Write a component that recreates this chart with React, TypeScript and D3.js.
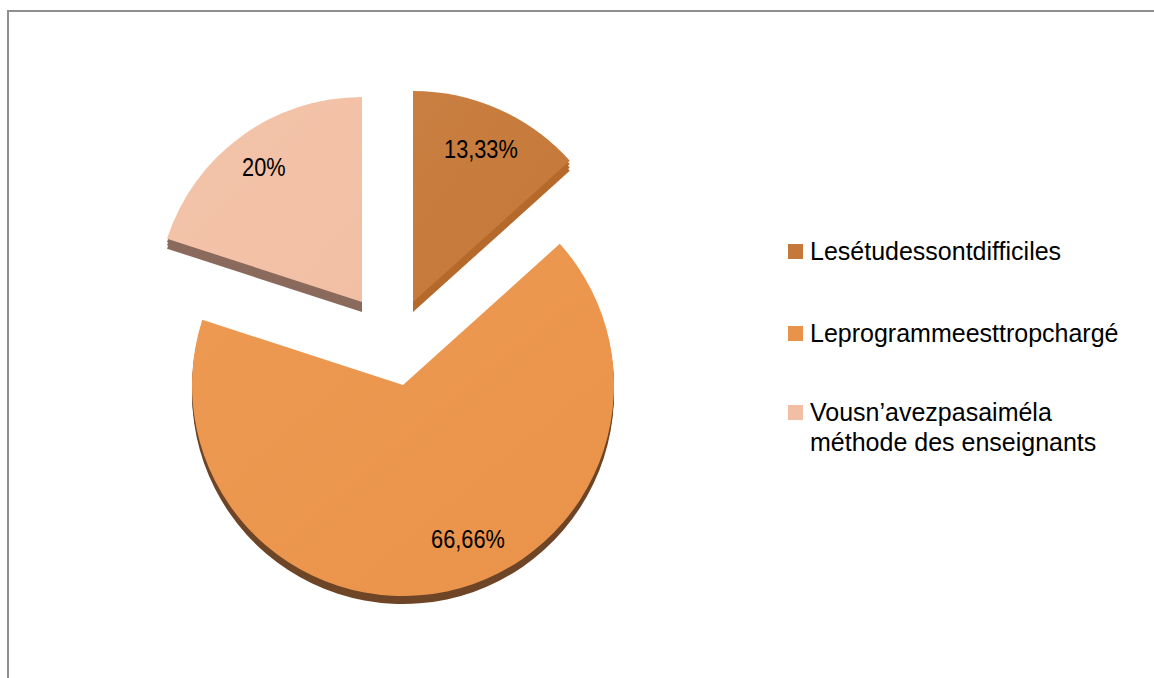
import React from "react";
import * as d3 from "d3";

const categories = [
  "Lesétudessontdifficiles",
  "Leprogrammeesttropchargé",
  "Vousn’avezpasaiméla méthode des enseignants",
];
const values = [13.33, 66.66, 20];
const labels = ["13,33%", "66,66%", "20%"];
const legendLines = [
  ["Lesétudessontdifficiles"],
  ["Leprogrammeesttropchargé"],
  ["Vousn’avezpasaiméla", "méthode des enseignants"],
];

const faceColors = ["#C4783A", "#E9924A", "#F2BFA4"];
const faceLight = ["#C97F41", "#EE9A52", "#F3C4AA"];
const sideColors = ["#B56A2C", "#6E4526", "#8A6A5C"];

export default function App() {
  const W = 1154;
  const H = 678;
  const r = 211;
  const depth = 10;
  const centers: [number, number][] = [
    [413, 302],
    [403, 385],
    [362, 302],
  ];
  const radii = [r, r, 205];
  const labelAngleShift = [0, -0.19, 0];
  const labelR = 167;

  const pie = d3.pie<number>().sort(null).value((d) => d);
  const arcs = pie(values);
  const arcFor = (i: number) =>
    d3.arc<d3.PieArcDatum<number>>().innerRadius(0).outerRadius(radii[i]);

  return (
    <svg
      width={W}
      height={H}
      style={{ position: "absolute", left: 0, top: 0 }}
      fontFamily="'Liberation Sans', Arial, sans-serif"
    >
      <defs>
        {faceColors.map((c, i) => (
          <linearGradient key={i} id={`g${i}`} x1="0" y1="0" x2="1" y2="1">
            <stop offset="0" stopColor={faceLight[i]} />
            <stop offset="1" stopColor={c} />
          </linearGradient>
        ))}
      </defs>
      <rect x={0} y={0} width={W} height={H} fill="#fff" />
      <line x1={7} y1={11} x2={W} y2={11} stroke="#8f8f8f" strokeWidth={2} />
      <line x1={8} y1={10} x2={8} y2={H} stroke="#8f8f8f" strokeWidth={2} />

      {arcs.map((a, i) => {
        const d = i === 1 ? 8 : depth;
        return (
          <g key={"s" + i}>
            {[d, d * 0.66, d * 0.33].map((off, k) => (
              <path
                key={k}
                transform={`translate(${centers[i][0]},${centers[i][1] + off})`}
                d={arcFor(i)(a) || ""}
                fill={sideColors[i]}
              />
            ))}
          </g>
        );
      })}
      {arcs.map((a, i) => (
        <g key={"f" + i} transform={`translate(${centers[i][0]},${centers[i][1]})`}>
          <path d={arcFor(i)(a) || ""} fill={`url(#g${i})`} />
        </g>
      ))}
      {arcs.map((a, i) => {
        const ang = (a.startAngle + a.endAngle) / 2 + labelAngleShift[i];
        const x = centers[i][0] + labelR * Math.sin(ang);
        const y = centers[i][1] - labelR * Math.cos(ang);
        return (
          <text
            key={"l" + i}
            transform={`translate(${x},${y + 9}) scale(0.87,1)`}
            textAnchor="middle"
            fontSize={25}
            fill="#000"
          >
            {labels[i]}
          </text>
        );
      })}
      {categories.map((c, i) => {
        const tops = [244, 326, 405];
        const y0 = tops[i];
        return (
          <g key={"lg" + i}>
            <rect x={788} y={y0} width={15} height={15} fill={faceColors[i]} />
            {legendLines[i].map((t, j) => (
              <text key={j} x={810} y={y0 + 16 + j * 30} fontSize={25} fill="#000">
                {t}
              </text>
            ))}
          </g>
        );
      })}
    </svg>
  );
}
